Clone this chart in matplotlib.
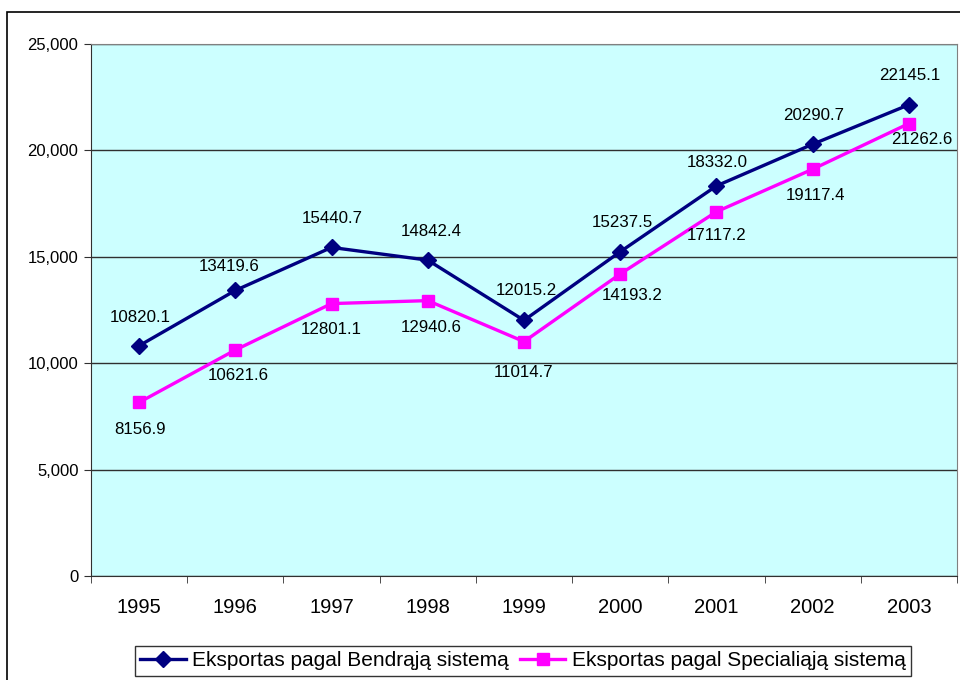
import matplotlib.pyplot as plt
from matplotlib.patches import Rectangle
from matplotlib.ticker import FuncFormatter, FixedLocator

years = ['1995', '1996', '1997', '1998', '1999', '2000', '2001', '2002', '2003']
bendroji = [10820.1, 13419.6, 15440.7, 14842.4, 12015.2, 15237.5, 18332.0, 20290.7, 22145.1]
speciali = [8156.9, 10621.6, 12801.1, 12940.6, 11014.7, 14193.2, 17117.2, 19117.4, 21262.6]
label_bendroji = 'Eksportas pagal Bendrąją sistemą'
label_speciali = 'Eksportas pagal Specialiąją sistemą'

# label offsets in pixels (dx, dy), as placed in the original chart
off_bendroji = [(1, 28), (-6, 24), (1, 29), (3, 29), (2, 30), (2, 29), (1, 23), (1, 29), (1, 29)]
off_speciali = [(1, -27), (3, -26), (0, -26), (3, -27), (0, -31), (12, -22), (0, -24), (3, -26), (13, -16)]

plt.rcParams['font.family'] = ['Liberation Sans', 'DejaVu Sans']

fig = plt.figure(figsize=(9.6, 6.8), dpi=100)
fig.patches.append(Rectangle((7 / 960, -0.05), 1.1, 1 - 12 / 680 + 0.05,
                             transform=fig.transFigure, fill=False,
                             edgecolor='black', linewidth=1.2))
ax = fig.add_axes([91 / 960, 1 - 576 / 680, 866 / 960, 532 / 680])
ax.set_facecolor('#CCFFFF')

x = list(range(len(years)))
ax.plot(x, bendroji, color='#000080', linewidth=2.4, marker='D', markersize=8.5,
        label=label_bendroji, zorder=3)
ax.plot(x, speciali, color='#FF00FF', linewidth=2.4, marker='s', markersize=8.5,
        label=label_speciali, zorder=3)

for i in x:
    ax.annotate(f'{bendroji[i]:.1f}', (i, bendroji[i]), xytext=off_bendroji[i],
                textcoords='offset pixels', ha='center', va='center', fontsize=12.2)
    ax.annotate(f'{speciali[i]:.1f}', (i, speciali[i]), xytext=off_speciali[i],
                textcoords='offset pixels', ha='center', va='center', fontsize=12.2)

ax.set_xlim(-0.5, len(years) - 0.5)
ax.set_ylim(0, 25000)
ax.set_yticks(range(0, 25001, 5000))
ax.yaxis.set_major_formatter(FuncFormatter(lambda v, p: f'{int(v):,}'))
ax.grid(axis='y', color='#303030', linewidth=1)
ax.set_axisbelow(True)

ax.set_xticks(x)
ax.set_xticklabels(years)
ax.xaxis.set_minor_locator(FixedLocator([i - 0.5 for i in range(len(years) + 1)]))
ax.tick_params(axis='x', which='major', length=0, pad=16, labelsize=14.5)
ax.tick_params(axis='x', which='minor', length=5, color='#303030')
ax.tick_params(axis='y', length=5, color='#303030', labelsize=12, pad=4)

for side in ['top', 'right']:
    ax.spines[side].set_color('#808080')
for side in ['left', 'bottom']:
    ax.spines[side].set_color('#303030')

leg = fig.legend(loc='center', bbox_to_anchor=(523 / 960, 1 - 661 / 680), ncol=2,
                 fontsize=15, frameon=True, fancybox=False, edgecolor='black',
                 handlelength=2.2, columnspacing=0.5, handletextpad=0.3,
                 borderpad=0.25, borderaxespad=0)
leg.get_frame().set_linewidth(1)

fig.savefig('out.png', dpi=100)
